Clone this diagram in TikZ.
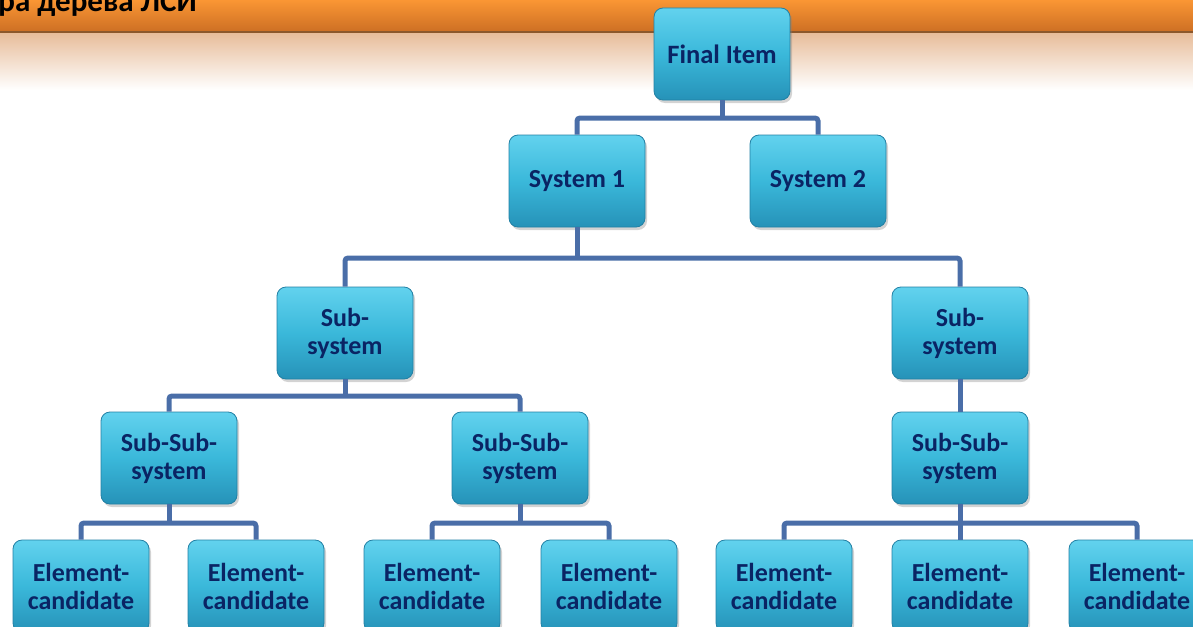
\documentclass[tikz,border=0pt]{standalone}
\usepackage{fontspec}
\setmainfont{Carlito}
\usetikzlibrary{shadows,calc}

\definecolor{barTop}{RGB}{250,150,52}
\definecolor{barBot}{RGB}{206,112,36}
\definecolor{barRule}{RGB}{140,88,44}
\definecolor{peach}{RGB}{232,190,156}
\definecolor{boxTop}{RGB}{98,210,238}
\definecolor{boxMid}{RGB}{58,184,218}
\definecolor{boxBot}{RGB}{38,146,184}
\definecolor{boxEdge}{RGB}{34,128,164}
\definecolor{navyText}{RGB}{10,36,100}
\definecolor{linkBlue}{RGB}{74,110,168}

\tikzset{
  unit/.style={
    rectangle, rounded corners=9pt, draw=boxEdge, line width=0.8pt,
    top color=boxTop, bottom color=boxBot, middle color=boxMid,
    minimum width=136pt, minimum height=92pt,
    align=center, text=navyText, inner sep=2pt,
    font=\bfseries\fontsize{26}{28}\selectfont,
    drop shadow={opacity=0.35, shadow xshift=2pt, shadow yshift=-3pt}
  },
  link/.style={draw=linkBlue, line width=5pt, rounded corners=3pt}
}

\begin{document}
\begin{tikzpicture}[x=1pt,y=-1pt]
\useasboundingbox (0,0) rectangle (1193,626);

% heading band
\shade[top color=barTop, bottom color=barBot] (0,0) rectangle (1193,31);
\fill[barRule] (0,31) rectangle (1193,34);
\shade[top color=peach, bottom color=white] (0,34) rectangle (1193,90);
\node[anchor=base east, inner sep=0pt, font=\bfseries\fontsize{31}{34}\selectfont]
  (title) at (197,12) {ра дерева ЛСИ};

% tree nodes
\node[unit, font=\bfseries\fontsize{26.5}{28}\selectfont] (fi) at (722,54) {Final Item};
\node[unit] (s1) at (577,181) {System 1};
\node[unit] (s2) at (818,181) {System 2};
\node[unit] (ssL) at (345,333) {Sub-\\system};
\node[unit] (ssR) at (960,333) {Sub-\\system};
\node[unit] (sssA) at (169,458) {Sub-Sub-\\system};
\node[unit] (sssB) at (520,458) {Sub-Sub-\\system};
\node[unit] (sssC) at (960,458) {Sub-Sub-\\system};
\node[unit] (e1) at (81,586) {Element-\\candidate};
\node[unit] (e2) at (256,586) {Element-\\candidate};
\node[unit] (e3) at (432,586) {Element-\\candidate};
\node[unit] (e4) at (609,586) {Element-\\candidate};
\node[unit] (e5) at (784,586) {Element-\\candidate};
\node[unit] (e6) at (960,586) {Element-\\candidate};
\node[unit] (e7) at (1137,586) {Element-\\candidate};

% bus heights
\coordinate (b1) at (0,118);
\coordinate (b2) at (0,258);
\coordinate (b3) at (0,396);
\coordinate (b4) at (0,523);

\draw[link] (fi.south) -- (fi.south |- b1);
\draw[link] (s1.north) -- (s1.north |- b1) -- (s2.north |- b1) -- (s2.north);

\draw[link] (s1.south) -- (s1.south |- b2);
\draw[link] (ssL.north) -- (ssL.north |- b2) -- (ssR.north |- b2) -- (ssR.north);

\draw[link] (ssL.south) -- (ssL.south |- b3);
\draw[link] (sssA.north) -- (sssA.north |- b3) -- (sssB.north |- b3) -- (sssB.north);
\draw[link] (ssR.south) -- (sssC.north);

\draw[link] (sssA.south) -- (sssA.south |- b4);
\draw[link] (e1.north) -- (e1.north |- b4) -- (e2.north |- b4) -- (e2.north);
\draw[link] (sssB.south) -- (sssB.south |- b4);
\draw[link] (e3.north) -- (e3.north |- b4) -- (e4.north |- b4) -- (e4.north);
\draw[link] (sssC.south) -- (e6.north);
\draw[link] (e5.north) -- (e5.north |- b4) -- (e7.north |- b4) -- (e7.north);
\end{tikzpicture}
\end{document}
